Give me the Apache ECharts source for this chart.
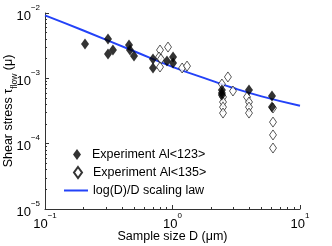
<!DOCTYPE html>
<html><head><meta charset="utf-8">
<script src="https://cdn.jsdelivr.net/npm/echarts@6/dist/echarts.min.js"></script>
<style>html,body{margin:0;padding:0;background:#fff}#c{width:332px;height:246px}</style>
</head><body><div id="c"></div>
<script>
// Experiment Al<123> (filled diamonds): sample size D (µm), shear stress
const al123D   = [0.206, 0.312, 0.312, 0.341, 0.456, 0.464, 0.499, 0.703, 0.703, 0.905, 1.01, 1.01, 2.44, 2.44, 2.44, 3.98, 6.03, 6.03];
const al123Tau = [3.35e-3, 4.0e-3, 2.36e-3, 2.71e-3, 3.24e-3, 2.71e-3, 2.20e-3, 1.98e-3, 1.44e-3, 1.84e-3, 2.12e-3, 1.71e-3, 6.62e-4, 5.96e-4, 5.55e-4, 6.62e-4, 5.36e-4, 3.63e-4];
// Experiment Al<135> (open diamonds)
const al135D   = [0.798, 0.922, 0.784, 0.812, 0.798, 1.19, 1.30, 2.72, 2.44, 2.98, 2.49, 2.49, 2.49, 2.49, 3.84, 3.98, 3.98, 3.98, 6.14, 6.14, 6.14, 6.14];
const al135Tau = [2.71e-3, 3.01e-3, 2.12e-3, 1.98e-3, 1.49e-3, 1.44e-3, 1.54e-3, 1.05e-3, 8.18e-4, 6.40e-4, 5.18e-4, 4.34e-4, 3.63e-4, 2.94e-4, 5.18e-4, 4.34e-4, 3.63e-4, 2.94e-4, 3.51e-4, 2.14e-4, 1.36e-4, 8.57e-5];
// log(D)/D scaling law curve
const lawD   = [0.1, 0.2, 0.5, 1, 2, 3, 5, 10];
const lawTau = [9.2e-3, 5.4e-3, 2.6e-3, 1.5e-3, 9.3e-4, 7.1e-4, 5.3e-4, 3.8e-4];
// tick exponents
const xTickExps = [-1, 0, 1];
const yTickExps = [-5, -4, -3, -2];
const seriesNames = ['Experiment Al<123>', 'Experiment Al<135>', 'log(D)/D scaling law'];

const FONT = 'Liberation Sans, Arial, sans-serif';
const zip = (a, b) => a.map((v, i) => [v, b[i]]);
const powLabel = exps => (v) => {
  const e = exps.find(k => Math.abs(Math.pow(10, k) - v) / Math.pow(10, k) < 1e-6);
  return e === undefined ? '' : '{b|10}{s|' + (e < 0 ? '\u2212' + (-e) : e) + '}';
};
const rich = {
  b: {fontFamily: FONT, fontSize: 13, color: '#000', verticalAlign: 'bottom', lineHeight: 19},
  s: {fontFamily: FONT, fontSize: 8, color: '#000', verticalAlign: 'top', lineHeight: 19}
};
const axisCommon = {
  type: 'log', logBase: 10,
  axisLine: {show: true, lineStyle: {color: '#333', width: 1}},
  axisTick: {show: true, inside: true, length: 4, lineStyle: {color: '#333'}},
  minorTick: {show: true, splitNumber: 9, length: 2, lineStyle: {color: '#333'}},
  splitLine: {show: false}, minorSplitLine: {show: false}
};
const legendText = {fontFamily: FONT, fontSize: 12.5, color: '#000'};
const chart = echarts.init(document.getElementById('c'), null, {renderer: 'canvas'});
chart.setOption({
  animation: false,
  backgroundColor: '#fff',
  grid: {left: 45, right: 32, top: 13, bottom: 37, containLabel: false, outerBoundsMode: 'none'},
  xAxis: Object.assign({}, axisCommon, {
    min: 0.1, max: 10,
    name: 'Sample size D (\u03bcm)', nameLocation: 'middle', nameGap: 21, nameMoveOverlap: false,
    nameTextStyle: {fontFamily: FONT, fontSize: 12.5, color: '#000'},
    axisLabel: {formatter: powLabel(xTickExps), rich: rich, margin: 3}
  }),
  yAxis: Object.assign({}, axisCommon, {
    min: 1e-5, max: 1e-2,
    name: '{n|Shear stress \u03c4}{sub|flow}{n| (\u03bc)}', nameLocation: 'middle', nameGap: 26, nameRotate: 90,
    nameMoveOverlap: false,
    nameTextStyle: {rich: {
      n: {fontFamily: FONT, fontSize: 12.5, color: '#000', verticalAlign: 'top', lineHeight: 17},
      sub: {fontFamily: FONT, fontSize: 8.5, color: '#000', verticalAlign: 'bottom', lineHeight: 17}
    }},
    axisLabel: {formatter: powLabel(yTickExps), rich: rich, margin: 5}
  }),
  legend: [
    {orient: 'vertical', left: 73, top: 148, itemWidth: 8, itemHeight: 11, itemGap: 0,
     textStyle: Object.assign({padding: [0, 0, 0, 6]}, legendText),
     data: [{name: seriesNames[0], icon: 'diamond'}], padding: [0, 0, 0, 0]},
    {orient: 'vertical', left: 73, top: 166, itemWidth: 8, itemHeight: 11, itemGap: 0,
     textStyle: Object.assign({padding: [0, 0, 0, 6]}, legendText),
     data: [{name: seriesNames[1], icon: 'diamond'}], padding: [0, 0, 0, 0]},
    {orient: 'vertical', left: 64, top: 184, itemWidth: 24, itemHeight: 11, itemGap: 0, textStyle: legendText,
     data: [{name: seriesNames[2], icon: 'path://M0,5L24,5L24,7L0,7Z'}], padding: [0, 0, 0, 0]}
  ],
  series: [
    {name: seriesNames[2], type: 'line', data: zip(lawD, lawTau), smooth: true, showSymbol: false, symbol: 'none',
     lineStyle: {color: '#2342f8', width: 2}, itemStyle: {color: '#2342f8'}, z: 1},
    {name: seriesNames[1], type: 'scatter', data: zip(al135D, al135Tau), symbol: 'diamond', symbolSize: [7, 10],
     itemStyle: {color: '#fff', borderColor: '#000', borderWidth: 0.8}, z: 2},
    {name: seriesNames[0], type: 'scatter', data: zip(al123D, al123Tau), symbol: 'diamond', symbolSize: [8, 11],
     itemStyle: {color: '#000'}, z: 3}
  ]
});
</script></body></html>
